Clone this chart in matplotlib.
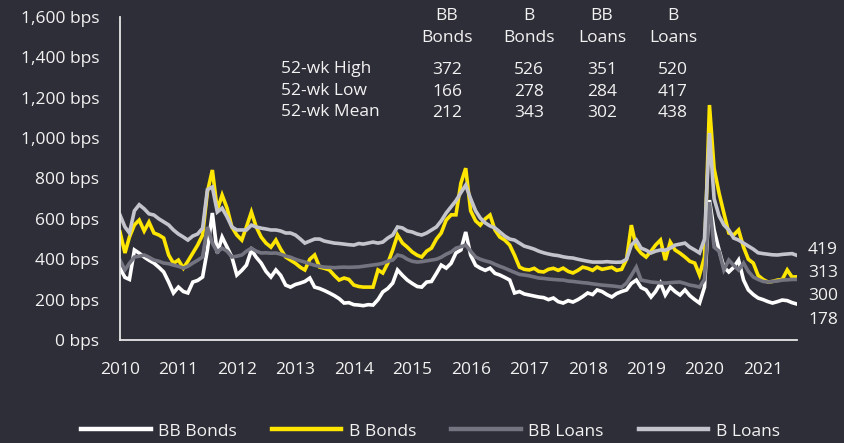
import numpy as np
import pandas as pd
import matplotlib
matplotlib.use('Agg')
import matplotlib.pyplot as plt

plt.rcParams['font.family'] = ['Open Sans', 'DejaVu Sans']

# monthly spread readings, Jan 2010 - Aug 2021 (bps)
dates = pd.date_range('2010-01-01', periods=140, freq='MS')

bb_bonds = [356, 310, 300, 446, 430, 411, 395, 381, 360, 337, 287, 233,
            262, 240, 233, 287, 295, 312, 446, 629, 431, 510, 460, 411,
            322, 345, 371, 446, 410, 381, 340, 312, 347, 320, 272, 262,
            275, 282, 290, 307, 262, 255, 245, 233, 220, 205, 183, 185,
            175, 173, 170, 175, 173, 200, 238, 255, 282, 347, 320, 297,
            280, 265, 262, 287, 290, 330, 371, 356, 380, 431, 446, 535,
            420, 370, 356, 345, 356, 330, 322, 310, 297, 233, 240, 228,
            223, 218, 213, 210, 200, 208, 190, 183, 195, 188, 200, 215,
            233, 225, 248, 240, 225, 213, 230, 240, 248, 280, 297, 260,
            248, 213, 240, 282, 223, 262, 240, 223, 248, 220, 200, 183,
            262, 693, 545, 446, 361, 337, 360, 396, 297, 248, 225, 208,
            200, 190, 183, 190, 198, 195, 185, 178]

b_bonds = [535, 431, 510, 570, 594, 540, 584, 530, 520, 505, 421, 380,
           396, 356, 390, 431, 470, 520, 733, 842, 644, 718, 653, 560,
           520, 495, 560, 634, 560, 510, 480, 460, 495, 450, 411, 396,
           380, 360, 347, 400, 421, 361, 355, 347, 320, 297, 307, 300,
           272, 265, 262, 262, 262, 347, 332, 380, 446, 520, 480, 460,
           436, 420, 411, 440, 455, 500, 530, 594, 620, 620, 777, 851,
           640, 590, 569, 600, 619, 545, 510, 495, 470, 420, 361, 350,
           347, 355, 340, 337, 350, 355, 345, 356, 340, 332, 345, 361,
           355, 345, 361, 350, 355, 360, 345, 350, 400, 569, 460, 430,
           411, 440, 470, 495, 396, 485, 446, 430, 411, 390, 381, 322,
           411, 1164, 850, 728, 629, 530, 520, 545, 460, 400, 381, 320,
           300, 287, 290, 297, 300, 347, 312, 313]

bb_loans = [396, 347, 380, 411, 415, 421, 410, 396, 390, 381, 378, 371,
            365, 356, 365, 381, 395, 411, 560, 480, 436, 455, 440, 411,
            415, 421, 440, 455, 440, 431, 432, 430, 431, 425, 416, 410,
            400, 392, 386, 378, 370, 365, 361, 360, 358, 360, 361, 360,
            361, 362, 365, 368, 371, 375, 380, 390, 396, 421, 415, 400,
            390, 386, 388, 392, 396, 400, 410, 425, 436, 455, 462, 470,
            440, 411, 400, 392, 386, 375, 365, 356, 345, 335, 325, 322,
            318, 312, 307, 305, 302, 300, 298, 297, 292, 290, 287, 284,
            282, 278, 275, 272, 270, 268, 265, 262, 282, 320, 361, 297,
            292, 287, 285, 283, 282, 284, 286, 287, 280, 272, 268, 262,
            300, 683, 460, 440, 347, 396, 370, 347, 381, 340, 312, 300,
            290, 287, 290, 292, 297, 298, 300, 300]

b_loans = [619, 560, 530, 640, 670, 650, 625, 619, 600, 585, 570, 545,
           525, 510, 495, 515, 525, 554, 745, 758, 634, 653, 610, 560,
           545, 545, 545, 569, 560, 554, 550, 545, 545, 540, 530, 530,
           520, 500, 480, 490, 500, 500, 490, 485, 480, 478, 475, 472,
           470, 478, 475, 480, 485, 480, 485, 505, 520, 560, 555, 540,
           535, 525, 520, 530, 545, 560, 590, 629, 660, 690, 730, 767,
           700, 640, 604, 580, 565, 555, 535, 515, 500, 495, 480, 465,
           458, 450, 440, 432, 426, 421, 418, 412, 408, 406, 400, 395,
           390, 386, 386, 386, 388, 386, 385, 386, 400, 470, 495, 455,
           445, 431, 440, 446, 445, 455, 470, 475, 480, 460, 446, 431,
           500, 1025, 700, 615, 570, 545, 505, 495, 480, 465, 450, 432,
           428, 425, 422, 421, 424, 426, 428, 419]

series_names = ['BB Bonds', 'B Bonds', 'BB Loans', 'B Loans']
series_data = [bb_bonds, b_bonds, bb_loans, b_loans]
colors = ['#ffffff', '#ffe600', '#747480', '#c4c4cd']

# 52-week stats table
table_cols = ['BB\nBonds', 'B\nBonds', 'BB\nLoans', 'B\nLoans']
table_rows = ['52-wk High', '52-wk Low', '52-wk Mean']
table_vals = [[372, 526, 351, 520],
              [166, 278, 284, 417],
              [212, 343, 302, 438]]
end_labels = [419, 313, 300, 178]

bg = '#2e2e38'
fg = '#f2f2f2'
W, H = 844, 443

fig = plt.figure(figsize=(8.44, 4.43), dpi=100, facecolor=bg)
ax = fig.add_axes([120 / W, 1 - 340 / H, 677 / W, 323 / H], facecolor=bg)

for name, vals, c in zip(series_names, series_data, colors):
    ax.plot(dates, vals, color=c, lw=2.6, label=name, solid_joinstyle='miter')

ax.set_ylim(0, 1600)
ax.set_yticks(range(0, 1601, 200))
ax.set_yticklabels([f'{v:,} bps' for v in range(0, 1601, 200)])
ax.set_xlim(pd.Timestamp('2010-01-01'), pd.Timestamp('2021-08-01'))
years = list(range(2010, 2022))
ax.set_xticks([pd.Timestamp(f'{y}-01-01') for y in years])
ax.set_xticklabels([str(y) for y in years])
ax.tick_params(axis='y', length=0, pad=15, labelsize=12.5, labelcolor=fg)
ax.tick_params(axis='x', length=0, pad=16, labelsize=12.5, labelcolor=fg)

for s in ['top', 'right']:
    ax.spines[s].set_visible(False)
for s in ['left', 'bottom']:
    ax.spines[s].set_color('#e6e6e6')
    ax.spines[s].set_linewidth(1.3)

# stats table as text
col_x = [447, 529, 602, 673]
for cx, lab in zip(col_x, table_cols):
    fig.text(cx / W, 1 - 27 / H, lab, ha='center', va='center', color=fg,
             fontsize=12.5, linespacing=1.5)
row_y = [69, 91, 112]
for ry, lab in zip(row_y, table_rows):
    fig.text(281 / W, 1 - ry / H, lab, ha='left', va='center', color=fg, fontsize=12.5)
for ry, row in zip(row_y, table_vals):
    for cx, v in zip(col_x, row):
        fig.text(cx / W, 1 - (ry + 1) / H, str(v), ha='center', va='center',
                 color=fg, fontsize=12.5)

# latest values on the right
end_y = [250, 273, 296, 320]
for ey, v in zip(end_y, end_labels):
    fig.text(808 / W, 1 - ey / H, str(v), ha='left', va='center', color=fg, fontsize=12.5)

leg = fig.legend(loc='center', bbox_to_anchor=(0.51, 0.026), ncol=4, frameon=False,
                 fontsize=12.5, handlelength=4.0, handletextpad=0.45, columnspacing=2.0)
for line in leg.get_lines():
    line.set_linewidth(3.2)
for t in leg.get_texts():
    t.set_color(fg)

fig.savefig('out.png', dpi=100, facecolor=bg)
